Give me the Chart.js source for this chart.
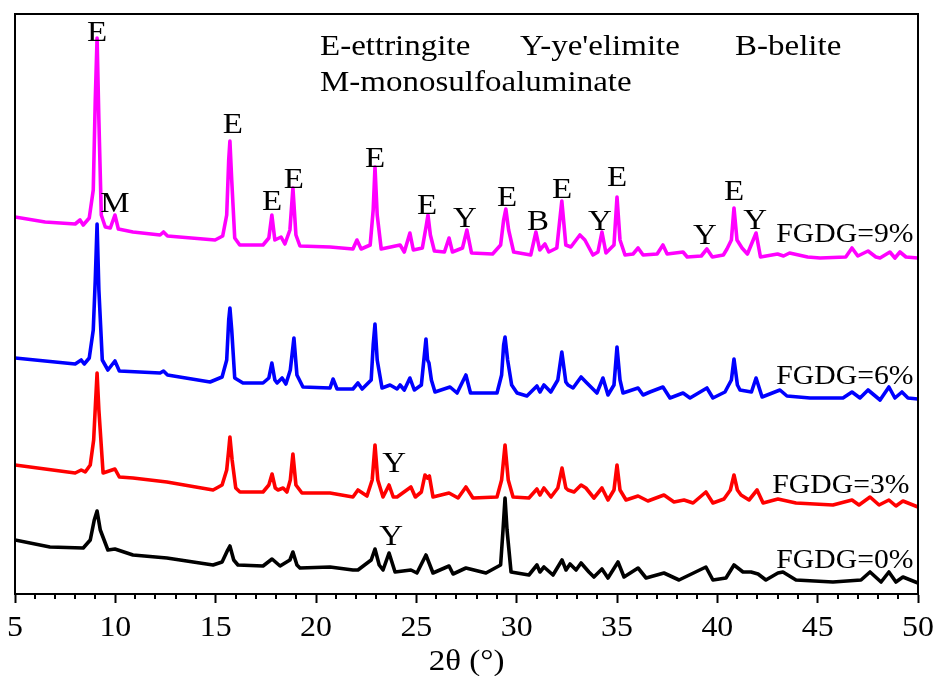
<!DOCTYPE html>
<html>
<head>
<meta charset="utf-8">
<script src="https://cdn.jsdelivr.net/npm/chart.js@4.4.1/dist/chart.umd.min.js"></script>
<style>
html,body{margin:0;padding:0;background:#fff;}
#wrap{width:936px;height:676px;}
</style>
</head>
<body>
<div id="wrap"><canvas id="c" width="936" height="676"></canvas></div>
<script>
// 2θ (degrees) and intensity (a.u., stacked with offset)
const theta9 = [5.00,6.5,8.0,8.24,8.40,8.7,8.9,9.0,9.09,9.18,9.3,9.5,9.75,9.98,10.15,10.88,12.23,12.4,12.6,14.97,15.35,15.55,15.65,15.71,15.80,15.95,16.2,17.36,17.65,17.8,17.95,18.26,18.45,18.7,18.85,19.0,19.2,20.7,21.84,22.04,22.25,22.7,22.85,22.94,23.05,23.25,24.19,24.4,24.68,24.85,25.3,25.5,25.58,25.7,25.9,26.4,26.63,26.8,27.3,27.52,27.75,28.8,29.2,29.35,29.46,29.6,29.85,30.7,30.96,31.15,31.41,31.6,32.0,32.25,32.45,32.7,33.15,33.4,33.8,34.05,34.25,34.45,34.85,35.0,35.15,35.4,35.8,36.05,36.3,37.0,37.29,37.5,38.29,38.5,39.2,39.48,39.75,40.3,40.48,40.7,40.83,40.98,41.23,41.5,41.93,42.15,43.0,43.3,43.6,44.5,45.12,46.4,46.71,47.0,47.51,47.9,48.11,48.6,48.85,49.1,49.4,50.0];
const int9   = [377,372,370,374,369,376,404,494,556,474,379,367,366,379,365,362,359,362,358,354,358,379,434,453,414,356,349,349,356,379,354,357,350,364,406,359,348,347,345,354,345,349,384,427,379,345,349,342,361,344,346,369,379,359,343,342,356,342,346,364,341,340,349,374,385,364,342,339,362,344,350,342,346,393,349,347,359,354,339,342,362,341,349,397,354,339,340,346,339,340,349,340,342,337,338,345,337,339,345,354,386,354,346,340,361,337,340,338,341,337,336,337,346,338,343,337,336,342,336,342,337,336];

const theta6 = [5.00,6.5,8.0,8.30,8.45,8.7,8.9,9.0,9.09,9.18,9.35,9.63,9.98,10.2,12.23,12.4,12.6,14.72,15.32,15.55,15.65,15.71,15.80,15.95,16.36,17.36,17.65,17.8,17.95,18.06,18.31,18.5,18.72,18.9,19.05,19.35,20.7,20.85,21.05,21.84,22.09,22.3,22.75,22.85,22.94,23.05,23.29,23.69,24.04,24.19,24.4,24.68,24.9,25.25,25.40,25.48,25.56,25.63,25.75,25.93,26.68,27.03,27.47,27.7,29.02,29.25,29.35,29.42,29.55,29.75,30.02,30.51,31.01,31.16,31.36,31.7,32.05,32.25,32.45,32.56,32.81,33.21,33.5,34.0,34.3,34.55,34.85,35.0,35.15,35.3,36.05,36.3,36.64,37.29,37.64,38.29,38.64,39.48,39.78,40.38,40.7,40.83,41.0,41.13,41.7,41.93,42.23,43.12,43.47,44.62,46.26,46.71,47.11,47.51,48.11,48.55,48.85,49.2,49.5,50.0];
const int6   = [236,233,230,234,230,236,264,314,370,304,234,224,233,223,221,223,219,212,217,234,274,286,264,216,211,211,216,231,214,211,216,210,224,256,219,207,206,215,205,205,211,205,214,249,270,234,206,209,205,209,204,216,204,209,239,255,234,231,214,202,207,201,219,201,201,219,249,257,234,209,201,198,208,202,209,202,214,242,212,209,206,217,211,201,216,199,209,247,214,201,206,199,202,207,196,201,196,206,196,202,214,235,209,204,202,216,197,204,198,196,196,202,196,204,194,207,196,202,196,195];

const theta3 = [5.00,6.5,8.0,8.3,8.5,8.75,8.92,9.02,9.09,9.18,9.39,9.98,10.2,10.88,12.57,14.87,15.32,15.55,15.65,15.71,15.82,16.0,16.21,17.36,17.65,17.81,17.97,18.11,18.36,18.55,18.72,18.85,19.0,19.3,20.7,21.84,22.09,22.54,22.8,22.94,23.08,23.34,23.64,23.85,24.04,24.73,24.95,25.25,25.43,25.55,25.65,25.83,26.63,27.08,27.47,27.82,29.02,29.25,29.42,29.58,29.82,30.61,31.01,31.16,31.36,31.71,32.05,32.26,32.45,32.56,32.86,33.21,33.45,33.85,34.25,34.55,34.85,35.0,35.15,35.45,36.05,36.54,37.34,37.84,38.34,38.79,39.43,39.78,40.33,40.65,40.83,41.0,41.18,41.58,41.98,42.28,43.02,43.92,45.76,46.71,47.06,47.61,48.06,48.55,48.9,49.25,50.0];
const int3   = [129,125,121,124,122,129,154,194,221,184,121,125,117,116,112,104,109,124,144,157,134,106,102,102,109,120,106,104,106,102,114,140,109,101,101,97,104,98,114,149,114,97,109,97,97,107,97,102,119,116,118,97,101,96,107,96,97,114,149,114,97,96,105,99,106,97,106,126,106,104,102,109,106,96,106,94,104,129,104,94,98,93,99,92,94,91,102,91,95,104,119,104,99,94,104,91,95,91,89,94,89,97,89,94,88,93,87];

const theta0 = [5.00,6.74,8.4,8.75,8.95,9.09,9.25,9.63,9.98,10.88,12.57,14.87,15.32,15.6,15.71,15.9,16.11,17.36,17.81,18.21,18.7,18.85,19.05,19.2,20.7,21.84,22.09,22.75,22.94,23.15,23.34,23.64,23.94,24.73,25.03,25.48,25.83,26.63,26.83,27.47,28.47,29.2,29.32,29.42,29.52,29.72,30.61,31.01,31.16,31.36,31.81,32.26,32.46,32.66,32.96,33.21,33.6,33.85,34.25,34.55,35.05,35.35,36.05,36.45,37.34,38.09,39.43,39.78,40.43,40.83,41.28,41.68,42.03,42.42,43.02,43.27,43.92,45.76,47.16,47.61,48.16,48.55,48.9,49.25,50.0];
const int0   = [54,47,46,54,74,83,64,44,45,39,36,29,32,44,48,34,29,28,35,28,34,42,29,26,27,24,24,34,45,29,24,41,22,24,21,39,21,28,20,26,21,29,64,96,64,22,19,29,22,27,19,34,24,30,24,31,22,17,25,16,32,17,26,16,21,14,27,14,16,29,22,22,20,14,21,22,14,12,14,22,12,22,12,17,11];

const seriesNames  = ['FGDG=9%','FGDG=6%','FGDG=3%','FGDG=0%'];
const seriesColors = ['#FF00FF','#0000FF','#FF0000','#000000'];
const xTickLabels  = [5,10,15,20,25,30,35,40,45,50];

// phase marks: [text, 2θ, intensity]
const peakLabels = [
  ['E',9.09,563],['M',9.98,392],['E',15.86,471],['E',17.81,394],['E',18.90,416],
  ['E',22.94,437],['E',25.53,390],['Y',27.42,377],['E',29.52,398],['B',31.06,374],
  ['E',32.26,406],['Y',34.15,374],['E',35.0,418],['Y',39.38,360],['E',40.83,404],
  ['Y',41.88,375],['Y',23.89,132],['Y',23.74,59]
];
// sample labels: [text, 2θ, intensity]
const sampleLabels = [
  ['FGDG=9%',46.36,361],['FGDG=6%',46.36,219],['FGDG=3%',46.16,110],['FGDG=0%',46.36,35]
];
const legendLines = [
  ['E-ettringite',320,55],['Y-ye\'elimite',520,55],['B-belite',735,55],['M-monosulfoaluminate',320,91]
];
const xTitle = '2θ (°)';

const serif = '"Liberation Serif", "Times New Roman", serif';
const xs = [theta9, theta6, theta3, theta0];
const ys = [int9, int6, int3, int0];

const datasets = seriesNames.map((n,i)=>({
  label: n,
  data: xs[i].map((x,j)=>({x:x, y:ys[i][j]})),
  borderColor: seriesColors[i],
  backgroundColor: seriesColors[i],
  borderWidth: 3.6,
  borderJoinStyle: 'round',
  borderCapStyle: 'round',
  pointRadius: 0,
  tension: 0,
  fill: false
}));

function stretchText(ctx, txt, x, baseline, size, sx, align){
  ctx.save();
  ctx.font = size + 'px ' + serif;
  ctx.fillStyle = '#000';
  ctx.textBaseline = 'alphabetic';
  const w = ctx.measureText(txt).width * sx;
  let left = x;
  if (align === 'center') left = x - w/2;
  ctx.translate(left, baseline);
  ctx.scale(sx, 1);
  ctx.textAlign = 'left';
  ctx.fillText(txt, 0, 0);
  ctx.restore();
}

const decor = {
  id: 'decor',
  afterDraw(chart){
    const {ctx, chartArea:a, scales:{x, y}} = chart;
    ctx.save();
    ctx.strokeStyle = '#000';
    ctx.lineWidth = 2;
    ctx.strokeRect(a.left, a.top, a.right - a.left, a.bottom - a.top);
    // minor ticks
    ctx.beginPath();
    for (let v = 5; v <= 50; v++){
      if (v % 5 === 0) continue;
      const px = Math.round(x.getPixelForValue(v));
      ctx.moveTo(px, a.bottom);
      ctx.lineTo(px, a.bottom + 5);
    }
    ctx.stroke();
    ctx.restore();
    xTickLabels.forEach(v=>{
      stretchText(ctx, String(v), x.getPixelForValue(v), a.bottom + 42, 29, 1.1, 'center');
    });
    peakLabels.forEach(([t, xv, yv])=>{
      stretchText(ctx, t, x.getPixelForValue(xv), y.getPixelForValue(yv) + 10, 30, 1.1, 'center');
    });
    sampleLabels.forEach(([t, xv, yv])=>{
      stretchText(ctx, t, x.getPixelForValue(xv), y.getPixelForValue(yv) + 9, 27, 1.1, 'center');
    });
    legendLines.forEach(([t, px, py])=>{
      stretchText(ctx, t, px, py, 30, 1.1, 'left');
    });
    stretchText(ctx, xTitle, (a.left + a.right)/2, 670, 30, 1.1, 'center');
  }
};

new Chart(document.getElementById('c'), {
  type: 'line',
  data: { datasets },
  options: {
    responsive: false,
    animation: false,
    devicePixelRatio: 1,
    layout: { padding: { left: 15, right: 18, top: 14, bottom: 73 } },
    plugins: { legend: { display: false }, tooltip: { enabled: false } },
    scales: {
      x: {
        type: 'linear',
        min: 5, max: 50,
        border: { display: true, color: '#000', width: 2 },
        grid: {
          drawOnChartArea: false,
          drawTicks: true,
          tickLength: 9,
          tickWidth: 2,
          tickColor: (c) => (c.tick && c.tick.value % 5 === 0) ? '#000' : 'rgba(0,0,0,0)'
        },
        ticks: {
          display: false,
          stepSize: 1,
          autoSkip: false,
          maxRotation: 0
        }
      },
      y: {
        display: false,
        min: 0, max: 580
      }
    }
  },
  plugins: [decor]
});
</script>
</body>
</html>
